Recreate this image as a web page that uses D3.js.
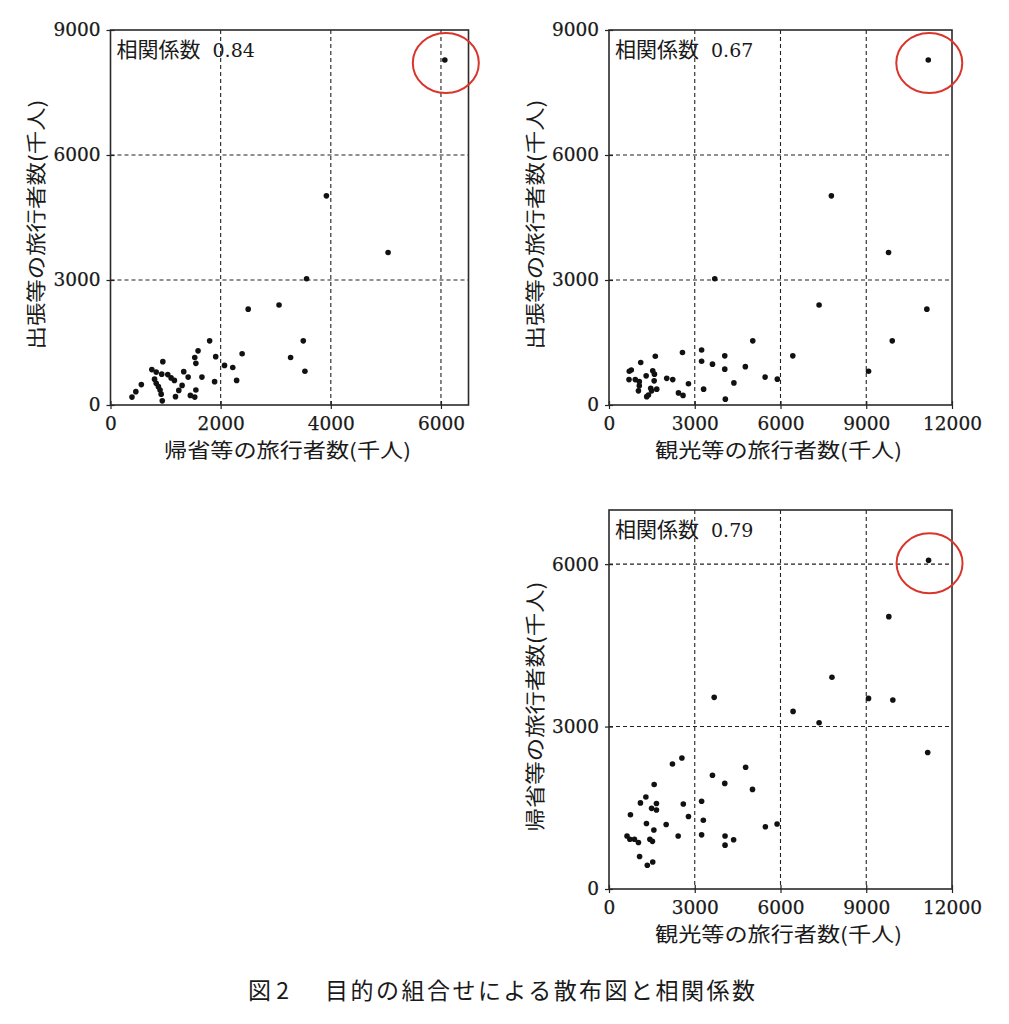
<!DOCTYPE html>
<html lang="ja">
<head>
<meta charset="utf-8">
<script src="https://cdn.jsdelivr.net/npm/d3@7"></script>
<style>
  body { margin: 0; background: #fff; }
  svg { display: block; }
  .tick text { font-family: "DejaVu Serif", serif; font-size: 18.5px; fill: #1a1a1a; stroke: #1a1a1a; stroke-width: 0.25px; }
  .tick line { stroke: #222; stroke-width: 1.2; }
  .axis-title { font-family: "Noto Sans CJK JP", sans-serif; font-size: 20px; fill: #1a1a1a; }
  .corr { font-size: 21px; fill: #1a1a1a; }
  .caption { font-family: "Noto Sans CJK JP", sans-serif; font-size: 23px; fill: #1a1a1a; }
</style>
</head>
<body>
<svg id="chart" width="1009" height="1024"></svg>
<script>
// [帰省, 出張] (千人)
const kisei_shutcho = [
  [6070, 8280], [3920, 5020], [5040, 3660], [3560, 3030], [3060, 2400], [2500, 2300],
  [3500, 1540], [3270, 1140], [3530, 810], [1800, 1540], [1590, 1300], [1530, 1140],
  [1550, 1000], [1910, 1160], [2390, 1230], [2070, 950], [2220, 900], [2290, 590],
  [1890, 560], [1660, 670], [1330, 800], [1410, 670], [950, 1040], [750, 850],
  [830, 790], [930, 740], [1040, 730], [1100, 650], [1160, 590], [800, 620],
  [830, 520], [870, 440], [900, 360], [920, 260], [940, 100], [560, 490],
  [460, 320], [390, 190], [1300, 470], [1240, 350], [1180, 200], [1450, 230],
  [1550, 360], [1530, 190]
];

// [観光, 出張] (千人)
const kanko_shutcho = [
  [11170, 8280], [7780, 5020], [9780, 3660], [3700, 3030], [7350, 2400], [11120, 2300],
  [9910, 1540], [9080, 810], [5030, 1540], [6430, 1180], [3240, 1320], [3240, 1050],
  [2570, 1260], [4050, 1180], [4050, 860], [3620, 980], [4770, 920], [5460, 670],
  [5890, 620], [4370, 530], [3310, 380], [4070, 140], [2780, 510], [2430, 290],
  [2590, 230], [710, 810], [780, 840], [700, 610], [920, 610], [1060, 560],
  [1060, 460], [1030, 340], [1110, 1020], [1300, 700], [1530, 820], [1590, 740],
  [1620, 1170], [1580, 580], [1460, 400], [1380, 240], [1320, 200], [1670, 380],
  [1490, 340], [2020, 640], [2230, 610]
];

// [観光, 帰省] (千人)
const kanko_kisei = [
  [11180, 6070], [9790, 5030], [7800, 3910], [3680, 3540], [9080, 3520], [9930, 3490],
  [6440, 3280], [7350, 3070], [11150, 2520], [2550, 2420], [2220, 2310], [4780, 2250],
  [3620, 2100], [4050, 1950], [5020, 1840], [1580, 1930], [1290, 1700], [1100, 1590],
  [1490, 1490], [1660, 1580], [1660, 1460], [2600, 1570], [3240, 1620], [750, 1370],
  [2780, 1340], [3300, 1270], [1310, 1210], [2000, 1190], [1570, 1090], [5470, 1150],
  [5880, 1200], [2420, 980], [3240, 1000], [4060, 980], [4060, 810], [4360, 910],
  [630, 980], [730, 920], [890, 920], [1030, 860], [1430, 920], [1520, 880],
  [1070, 600], [1340, 440], [1530, 500]
];

const corr_values = ["0.84", "0.67", "0.79"];
const ticks_kisei_x = [0, 2000, 4000, 6000];
const ticks_kanko_x = [0, 3000, 6000, 9000, 12000];
const ticks_shutcho_y = [0, 3000, 6000, 9000];
const ticks_kisei_y = [0, 3000, 6000];

const label_kisei = "帰省等の旅行者数(千人)";
const label_kanko = "観光等の旅行者数(千人)";
const label_shutcho = "出張等の旅行者数(千人)";

const svg = d3.select("#chart");

const panels = [
  {
    data: kisei_shutcho, corr: corr_values[0],
    xMax: 6500, yMax: 9000, xTicks: ticks_kisei_x, yTicks: ticks_shutcho_y,
    xLabel: label_kisei, yLabel: label_shutcho,
    left: 110.5, right: 468.5, top: 30, bottom: 405,
  },
  {
    data: kanko_shutcho, corr: corr_values[1],
    xMax: 12000, yMax: 9000, xTicks: ticks_kanko_x, yTicks: ticks_shutcho_y,
    xLabel: label_kanko, yLabel: label_shutcho,
    left: 609, right: 952, top: 30, bottom: 405,
  },
  {
    data: kanko_kisei, corr: corr_values[2],
    xMax: 12000, yMax: 7000, xTicks: ticks_kanko_x, yTicks: ticks_kisei_y,
    xLabel: label_kanko, yLabel: label_kisei,
    left: 609, right: 952, top: 510, bottom: 889,
  },
];

const renderPanel = (p) => {
  const x = d3.scaleLinear().domain([0, p.xMax]).range([p.left, p.right]);
  const y = d3.scaleLinear().domain([0, p.yMax]).range([p.bottom, p.top]);
  const g = svg.append("g");

  // dashed grid on inner ticks
  g.append("g")
    .selectAll("line")
    .data(p.xTicks.filter((t) => t > 0 && t < p.xMax))
    .enter()
    .append("line")
    .attr("x1", (d) => x(d)).attr("x2", (d) => x(d))
    .attr("y1", p.top).attr("y2", p.bottom)
    .style("stroke", "#222").style("stroke-width", 1.1)
    .style("stroke-dasharray", "4,3");
  g.append("g")
    .selectAll("line")
    .data(p.yTicks.filter((t) => t > 0 && t < p.yMax))
    .enter()
    .append("line")
    .attr("y1", (d) => y(d)).attr("y2", (d) => y(d))
    .attr("x1", p.left).attr("x2", p.right)
    .style("stroke", "#222").style("stroke-width", 1.1)
    .style("stroke-dasharray", "4,3");

  const xAxis = g.append("g")
    .attr("transform", `translate(0, ${p.bottom})`)
    .call(d3.axisBottom(x).tickValues(p.xTicks).tickSize(4).tickPadding(8).tickFormat(d3.format("d")));
  xAxis.select(".domain").remove();
  xAxis.selectAll(".tick line").attr("y1", -4);

  const yAxis = g.append("g")
    .attr("transform", `translate(${p.left}, 0)`)
    .call(d3.axisLeft(y).tickValues(p.yTicks).tickSize(4).tickPadding(6).tickFormat(d3.format("d")));
  yAxis.select(".domain").remove();
  yAxis.selectAll(".tick line").attr("x1", 4);
  g.selectAll(".tick text").attr("font-family", null).attr("font-size", null);

  // frame
  g.append("rect")
    .attr("x", p.left).attr("y", p.top)
    .attr("width", p.right - p.left).attr("height", p.bottom - p.top)
    .style("fill", "none").style("stroke", "#2a2a2a").style("stroke-width", 1.6);

  // points
  g.append("g")
    .selectAll("circle")
    .data(p.data)
    .enter()
    .append("circle")
    .attr("cx", (d) => x(d[0]))
    .attr("cy", (d) => y(d[1]))
    .attr("r", 2.8)
    .style("fill", "#111");

  // red ring round the largest point
  const top = p.data.reduce((a, b) => (b[1] > a[1] ? b : a));
  g.append("ellipse")
    .attr("cx", x(top[0]) + 1)
    .attr("cy", y(top[1]) + 3)
    .attr("rx", 33).attr("ry", 30)
    .style("fill", "none").style("stroke", "#d8352c").style("stroke-width", 2);

  // correlation
  const t = g.append("text").attr("class", "corr")
    .attr("x", p.left + 6).attr("y", p.top + 27);
  t.append("tspan").attr("font-family", "'Noto Sans CJK JP', sans-serif").text("相関係数");
  t.append("tspan").attr("font-family", "'DejaVu Serif', serif").attr("font-size", 19)
    .attr("dx", 12).text(p.corr);

  // axis titles
  g.append("text").attr("class", "axis-title")
    .attr("x", (p.left + p.right) / 2 - 2).attr("y", p.bottom + 53)
    .attr("text-anchor", "middle")
    .attr("textLength", 247).attr("lengthAdjust", "spacingAndGlyphs")
    .text(p.xLabel);
  g.append("text").attr("class", "axis-title")
    .attr("transform", `translate(${p.left - 75}, ${(p.top + p.bottom) / 2 + 7}) rotate(-90)`)
    .attr("text-anchor", "middle").attr("dominant-baseline", "central")
    .attr("textLength", 250).attr("lengthAdjust", "spacingAndGlyphs")
    .text(p.yLabel);
};

panels.map((p) => renderPanel(p));

// caption
svg.append("text").attr("class", "caption")
  .attr("x", 248).attr("y", 999).text("図 2");
svg.append("text").attr("class", "caption")
  .attr("x", 325).attr("y", 999)
  .attr("textLength", 430).attr("lengthAdjust", "spacing")
  .text("目的の組合せによる散布図と相関係数");
</script>
</body>
</html>
